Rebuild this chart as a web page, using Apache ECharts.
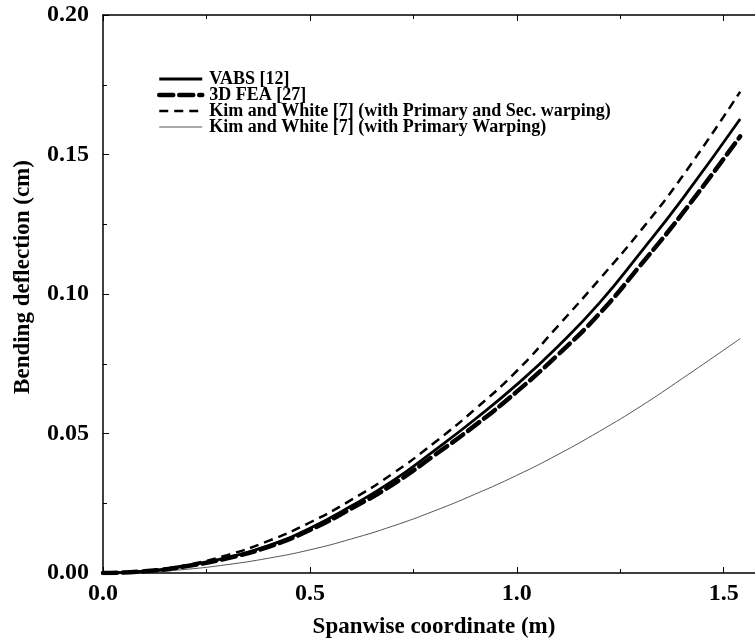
<!DOCTYPE html>
<html>
<head>
<meta charset="utf-8">
<script src="https://cdn.jsdelivr.net/npm/echarts@6/dist/echarts.min.js"></script>
<style>html,body{margin:0;padding:0;background:#fff;}#c{width:755px;height:643px;}</style>
</head>
<body>
<div id="c"></div>
<script>
const xs = [0, 0.1, 0.2, 0.3, 0.4, 0.5, 0.6, 0.7, 0.8, 0.9, 1.0, 1.1, 1.2, 1.3, 1.4, 1.54];
const vabs = [0, 0.0006, 0.0025, 0.0055, 0.0098, 0.0160, 0.0240, 0.0330, 0.0438, 0.0552, 0.0675, 0.0813, 0.0968, 0.1150, 0.1340, 0.1627];
const fea = [0, 0.0006, 0.0024, 0.0053, 0.0094, 0.0154, 0.0231, 0.0317, 0.0421, 0.0530, 0.0650, 0.0783, 0.0930, 0.1105, 0.1288, 0.1565];
const kimSec = [0, 0.0007, 0.0028, 0.0064, 0.0115, 0.0181, 0.0262, 0.0356, 0.0466, 0.0588, 0.0724, 0.0886, 0.1053, 0.1228, 0.1421, 0.1725];
const kimPrim = [0, 0.0003, 0.0013, 0.0030, 0.0053, 0.0083, 0.0122, 0.0168, 0.0222, 0.0283, 0.0350, 0.0425, 0.0508, 0.0598, 0.0697, 0.0840];
const names = ['VABS [12]', '3D FEA [27]', 'Kim and White [7] (with Primary and Sec. warping)', 'Kim and White [7] (with Primary Warping)'];
const xTicks = [0, 0.5, 1.0, 1.5];
const yTicks = [0, 0.05, 0.10, 0.15, 0.20];

const pair = arr => xs.map((x, i) => [x, arr[i]]);
const serif = '"Liberation Serif", "DejaVu Serif", serif';

const styles = [
  {color: '#000', width: 2.8, type: 'solid'},
  {color: '#000', width: 4.5, type: [14, 6], cap: 'round'},
  {color: '#000', width: 2.5, type: [9, 6]},
  {color: '#555', width: 1, type: 'solid'}
];

const chart = echarts.init(document.getElementById('c'), null, {renderer: 'canvas'});
chart.setOption({
  animation: false,
  backgroundColor: '#fff',
  grid: {left: 103, right: -10, top: 15, bottom: 70, outerBoundsMode: 'none', containLabel: false},
  legend: {
    orient: 'vertical',
    left: 152, top: 65,
    itemWidth: 43, itemHeight: 14, itemGap: -2,
    data: names.map((n, i) => ({name: n, lineStyle: Object.assign({}, styles[i])})),
    itemStyle: {opacity: 0},
    textStyle: {fontFamily: serif, fontWeight: 'bold', fontSize: 18, color: '#000', padding: [0, 0, 0, 2]}
  },
  xAxis: [{
    type: 'value', min: 0, max: 1.6, interval: 0.5,
    name: 'Spanwise coordinate (m)', nameLocation: 'middle', nameGap: 43,
    nameTextStyle: {fontFamily: serif, fontWeight: 'bold', fontSize: 23, color: '#000'},
    axisLine: {show: true, onZero: false, lineStyle: {color: '#000', width: 1.5}},
    axisTick: {show: true, inside: true, length: 6, lineStyle: {color: '#000', width: 1}},
    minorTick: {show: true, splitNumber: 2, length: 4, lineStyle: {color: '#000', width: 1}},
    splitLine: {show: false},
    axisLabel: {fontFamily: serif, fontWeight: 'bold', fontSize: 24, color: '#000', margin: 9,
      formatter: v => xTicks.some(t => Math.abs(t - v) < 1e-9) ? v.toFixed(1) : ''}
  }, {
    type: 'value', position: 'top', min: 0, max: 1.6, interval: 0.5,
    axisLine: {show: true, onZero: false, lineStyle: {color: '#000', width: 1.5}},
    axisTick: {show: true, inside: true, length: 6, lineStyle: {color: '#000', width: 1}},
    minorTick: {show: true, splitNumber: 2, length: 4, lineStyle: {color: '#000', width: 1}},
    splitLine: {show: false},
    axisLabel: {show: false}
  }],
  yAxis: {
    type: 'value', min: 0, max: 0.2, interval: 0.05,
    name: 'Bending deflection (cm)', nameLocation: 'middle', nameGap: 68,
    nameTextStyle: {fontFamily: serif, fontWeight: 'bold', fontSize: 23, color: '#000', padding: [0, 0, 0, 34]},
    axisLine: {show: true, onZero: false, lineStyle: {color: '#000', width: 1.5}},
    axisTick: {show: true, inside: true, length: 6, lineStyle: {color: '#000', width: 1}},
    minorTick: {show: true, splitNumber: 2, length: 4, lineStyle: {color: '#000', width: 1}},
    splitLine: {show: false},
    axisLabel: {fontFamily: serif, fontWeight: 'bold', fontSize: 24, color: '#000', margin: 14,
      formatter: v => yTicks.some(t => Math.abs(t - v) < 1e-9) ? v.toFixed(2) : ''}
  },
  series: [
    {name: names[0], type: 'line', data: pair(vabs), smooth: true, symbol: 'none',
      lineStyle: styles[0], itemStyle: {color: '#000'}, z: 4},
    {name: names[1], type: 'line', data: pair(fea), smooth: true, symbol: 'none',
      lineStyle: styles[1], itemStyle: {color: '#000'}, z: 3},
    {name: names[2], type: 'line', data: pair(kimSec), smooth: true, symbol: 'none',
      lineStyle: styles[2], itemStyle: {color: '#000'}, z: 2},
    {name: names[3], type: 'line', data: pair(kimPrim), smooth: true, symbol: 'none',
      lineStyle: styles[3], itemStyle: {color: '#555'}, z: 1}
  ]
});
</script>
</body>
</html>
